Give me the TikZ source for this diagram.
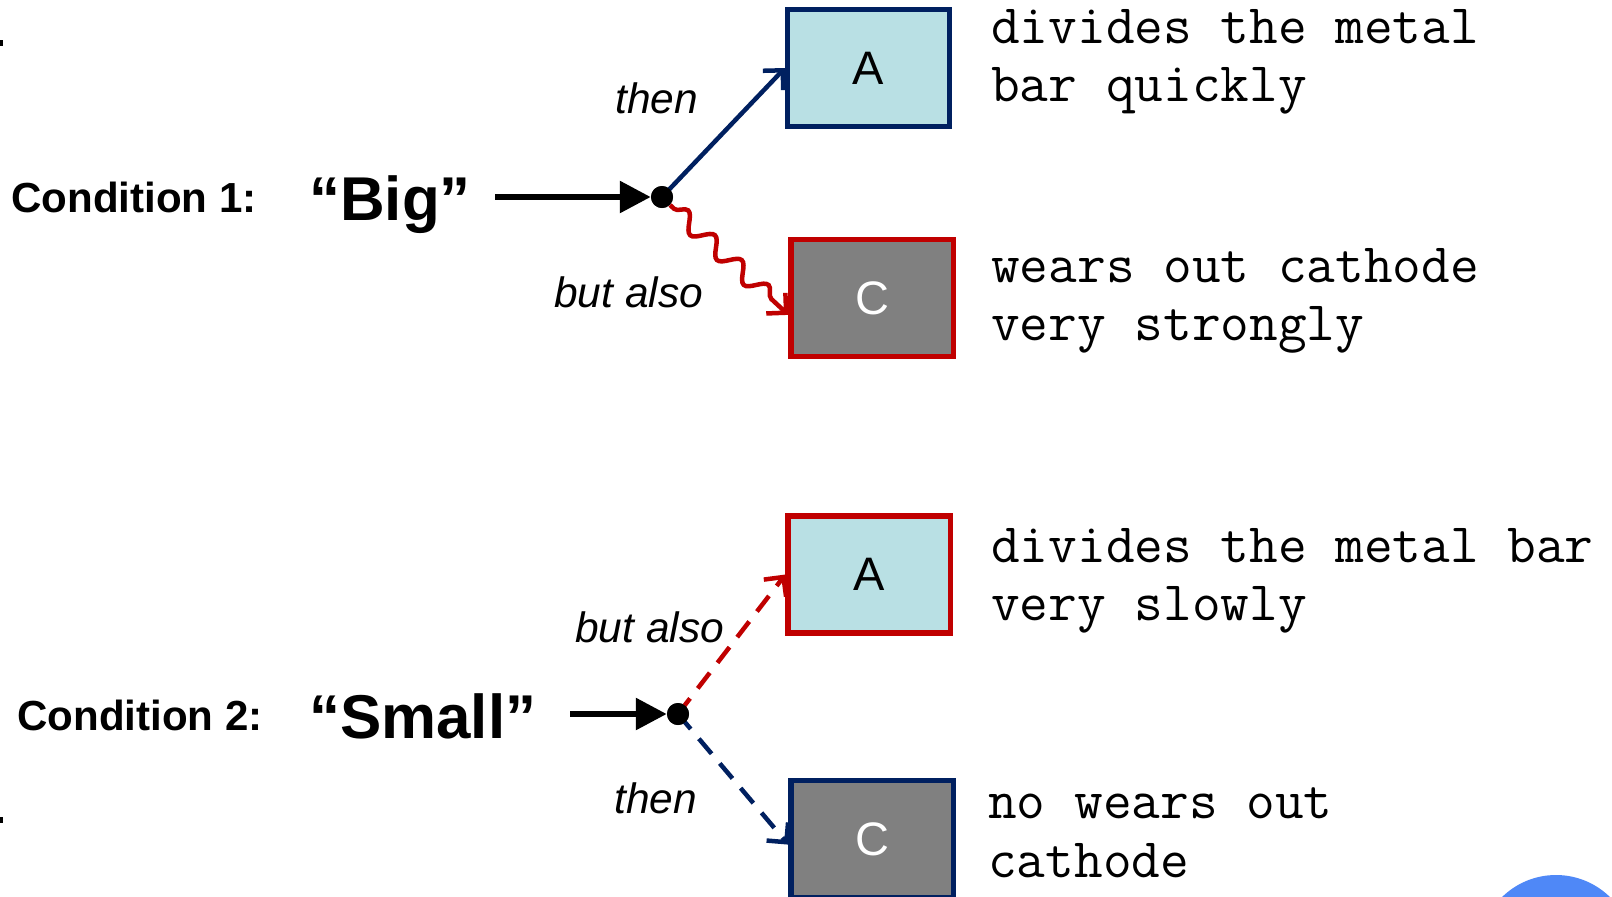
\documentclass[tikz,border=0pt]{standalone}
\usepackage{fontspec}
\setmainfont{Liberation Sans}
\usetikzlibrary{arrows.meta,decorations.pathmorphing}
\definecolor{boxblue}{HTML}{B9E0E4}
\definecolor{boxgrey}{HTML}{808080}
\definecolor{framenavy}{HTML}{002060}
\definecolor{framered}{HTML}{C00000}
\definecolor{dotblue}{HTML}{4F88F7}
\begin{document}
\begin{tikzpicture}[x=0.025cm,y=-0.025cm,
  box/.style={draw,line width=3.6pt,minimum width=4.05cm,minimum height=2.925cm,inner sep=0pt,font=\fontsize{33.4}{40}\selectfont},
  abox/.style={box,fill=boxblue},
  cbox/.style={box,fill=boxgrey,text=white},
  cond/.style={anchor=base west,inner sep=0pt,font=\bfseries\fontsize{29.9}{36}\selectfont},
  word/.style={anchor=base west,inner sep=0pt,font=\bfseries\fontsize{44}{52}\selectfont},
  note/.style={anchor=base west,inner sep=0pt,font=\ttfamily\fontsize{39.6}{46}\selectfont},
  how/.style={anchor=base west,inner sep=0pt,font=\itshape\fontsize{30.2}{36}\selectfont},
  junction/.style={circle,fill=black,inner sep=0pt,minimum size=0.55cm},
  feed/.style={line width=4.3pt,-{Triangle[length=22pt,width=22pt]}},
  branch/.style={line width=3.2pt,-{Straight Barb[length=10pt,width=20pt]}},
  gap/.style={dash pattern=on 14pt off 9pt}]
\useasboundingbox (0,0) rectangle (1612,896);
\clip (0,0) rectangle (1612,896);
\fill[white] (0,0) rectangle (1612,896);
% left edge marks and corner circle
\fill (0,40) rectangle (2.5,46);
\fill (0,817) rectangle (2.5,823);
\fill[dotblue] (1556,952) circle (77);

% condition 1
\node[cond] (c1) at (11,212) {Condition 1:};
\node[word] (w1) at (309,220) {“Big”};
\coordinate (s1) at (495,197);
\node[junction] (d1) at (662,197) {};
\node[abox,draw=framenavy] (A1) at (868.5,68) {A};
\node[cbox,draw=framered] (C1) at (872,298) {C};
\draw[feed] (s1) -- (d1);
\draw[branch,framenavy] (d1.center) -- (A1.west);
\draw[branch,framered,decorate,decoration={snake,segment length=26pt,amplitude=6pt,pre length=4pt,post length=12pt}] (d1.south east) -- ([yshift=-12pt]C1.west);
\node[junction] at (d1) {};
\node[how] (t1) at (615,113) {then};
\node[how] (b1) at (554,307) {but also};
\node[note] (n1) at (991,43) {divides the metal};
\node[note] (n2) at (991,101) {bar quickly};
\node[note] (n3) at (991,282) {wears out cathode};
\node[note] (n4) at (991,340) {very strongly};

% condition 2
\node[cond] (c2) at (17,730) {Condition 2:};
\node[word] (w2) at (309,738) {“Small”};
\coordinate (s2) at (570,714);
\node[junction] (d2) at (678,714) {};
\node[abox,draw=framered] (A2) at (869,574.5) {A};
\node[cbox,draw=framenavy] (C2) at (872,839) {C};
\draw[feed] (s2) -- (d2);
\draw[branch,framered,gap] (d2.center) -- (A2.west);
\draw[branch,framenavy,gap] (d2.center) -- ([yshift=-4pt]C2.west);
\node[junction] at (d2) {};
\node[how] (b2) at (575,642) {but also};
\node[how] (t2) at (614,813) {then};
\node[note] (n5) at (991,562) {divides the metal bar};
\node[note] (n6) at (991,620) {very slowly};
\node[note] (n7) at (988,818) {no wears out};
\node[note] (n8) at (988,877) {cathode};
\end{tikzpicture}
\end{document}
